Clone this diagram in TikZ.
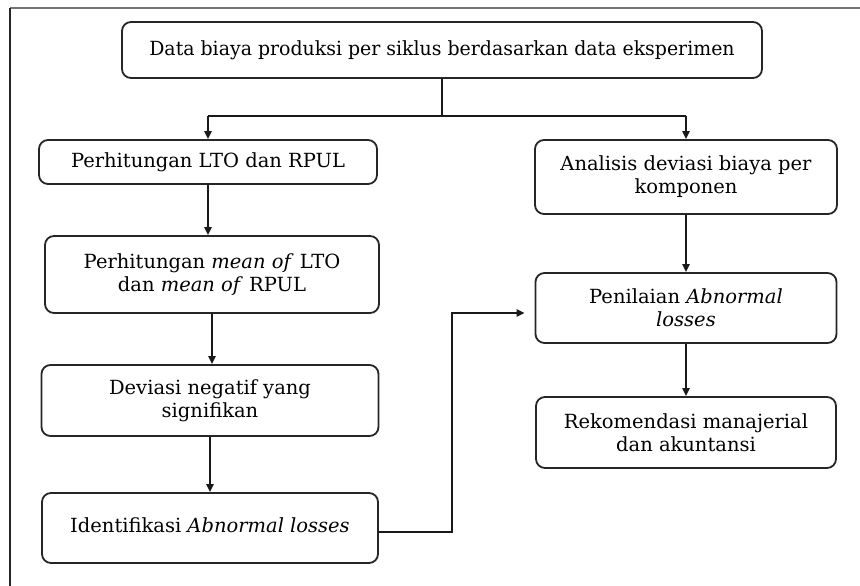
\documentclass[tikz,border=0pt]{standalone}
\usepackage{fontspec}
\setmainfont{DejaVu Serif}
\usetikzlibrary{arrows.meta}
\begin{document}
\begin{tikzpicture}[x=1pt,y=-1pt,
  box/.style={draw=black!85,line width=1.8pt,rounded corners=9pt,fill=white,
    inner sep=2pt,align=center,font=\fontsize{19.5}{23}\selectfont,
    minimum width=#1},
  conn/.style={line width=2pt,draw=black!90},
  arr/.style={conn,-{Triangle[length=8pt,width=7pt]}}]
\useasboundingbox (0,0) rectangle (860,586);
\fill[white] (0,0) rectangle (860,586);
\draw[line width=1.2pt,black!55] (10,8) -- (860,8);
\draw[line width=1.2pt,black!85] (10,8) -- (10,586);

\node[box=640pt,minimum height=56pt] (top) at (442,50)
  {\scalebox{0.97}[1]{Data biaya produksi per siklus berdasarkan data eksperimen}};

\node[box=338pt,minimum height=44pt] (l1) at (208,162) {Perhitungan LTO dan RPUL};
\node[box=334pt,minimum height=77pt] (l2) at (212,274.5)
  {Perhitungan \textit{mean of} LTO\\dan \textit{mean of} RPUL};
\node[box=337pt,minimum height=71pt] (l3) at (210,400.5)
  {Deviasi negatif yang\\signifikan};
\node[box=336pt,minimum height=70pt] (l4) at (210,528)
  {\raisebox{6pt}{Identifikasi \textit{Abnormal losses}}};

\node[box=302pt,minimum height=74pt] (r1) at (686,177)
  {Analisis deviasi biaya per\\komponen};
\node[box=301pt,minimum height=70pt] (r2) at (686,308)
  {Penilaian \textit{Abnormal}\\\textit{losses}};
\node[box=300pt,minimum height=71pt] (r3) at (686,432.5)
  {Rekomendasi manajerial\\dan akuntansi};

\coordinate (split) at (top.south |- 0,116);
\coordinate (sl) at (l1.north |- 0,116);
\coordinate (sr) at (r1.north |- 0,116);
\draw[conn] (top.south) -- (split);
\draw[conn] (sl) -- (sr);
\draw[arr] (sl) -- (l1.north);
\draw[arr] (sr) -- (r1.north);
\draw[arr] (l1.south) -- (l1.south |- l2.north);
\draw[arr] (l2.south) -- (l2.south |- l3.north);
\draw[arr] (l3.south) -- (l3.south |- l4.north);
\draw[arr] (r1.south) -- (r1.south |- r2.north);
\draw[arr] (r2.south) -- (r2.south |- r3.north);
\coordinate (e1) at (452,532);
\coordinate (e2) at (452,313);
\draw[arr,shorten >=10pt] (l4.east |- e1) -- (e1) -- (e2) -- (e2 -| r2.west);
\end{tikzpicture}
\end{document}
